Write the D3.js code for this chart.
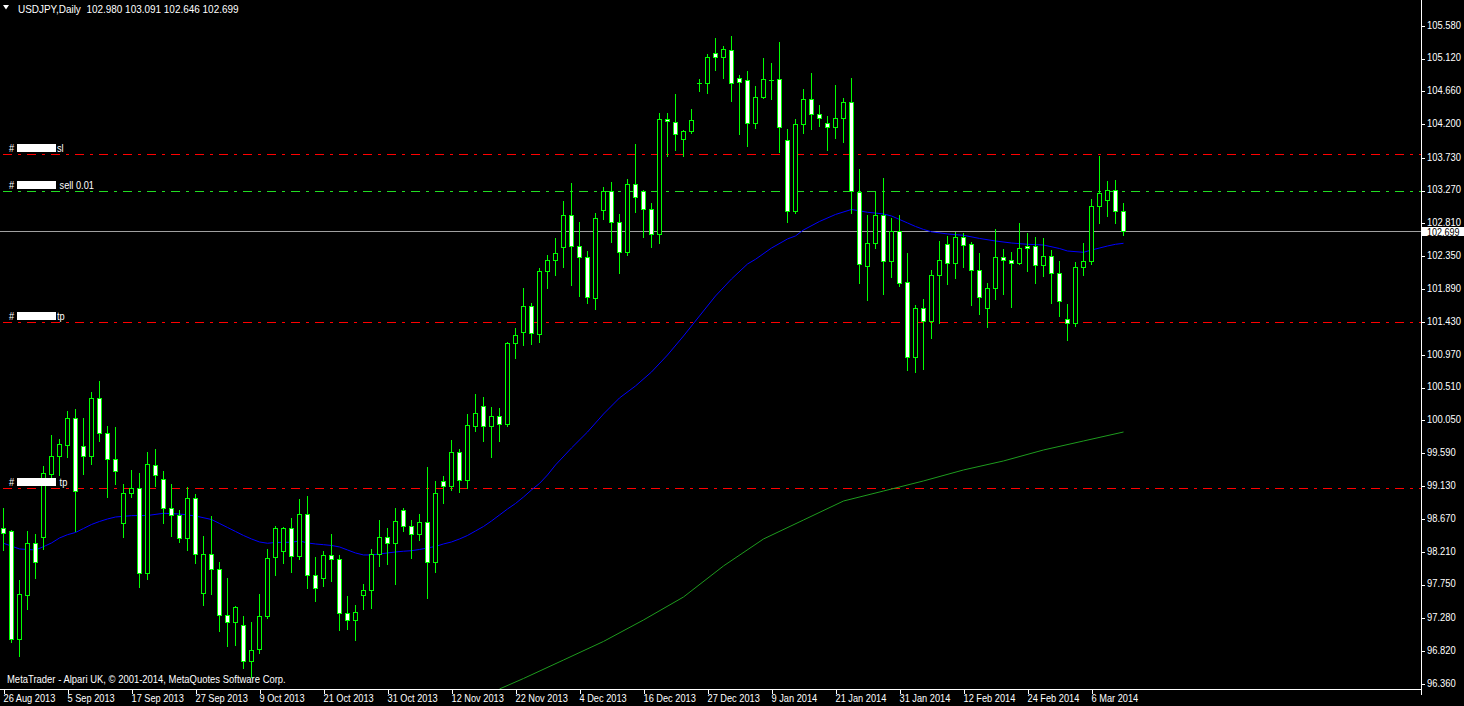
<!DOCTYPE html>
<html><head><meta charset="utf-8">
<script src="https://cdn.jsdelivr.net/npm/d3@7"></script>
<style>
html,body{margin:0;padding:0;background:#000;overflow:hidden;}
svg{display:block;}
text{font-family:"Liberation Sans",Arial,sans-serif;}
</style></head><body>
<svg id="c" width="1464" height="706"></svg>
<script>
// ---------------- DATA ----------------
const headerText = "USDJPY,Daily";
const headerValues = ["102.980", "103.091", "102.646", "102.699"];
const copyrightText = "MetaTrader - Alpari UK, \u00a9 2001-2014, MetaQuotes Software Corp.";
const dateLabels = ["26 Aug 2013","5 Sep 2013","17 Sep 2013","27 Sep 2013","9 Oct 2013","21 Oct 2013","31 Oct 2013","12 Nov 2013","22 Nov 2013","4 Dec 2013","16 Dec 2013","27 Dec 2013","9 Jan 2014","21 Jan 2014","31 Jan 2014","12 Feb 2014","24 Feb 2014","6 Mar 2014"];
const priceTicks = [105.580,105.120,104.660,104.200,103.730,103.270,102.810,102.350,101.890,101.430,100.970,100.510,100.050,99.590,99.130,98.670,98.210,97.750,97.280,96.820,96.360];

const opens = [98.538,98.496,96.991,97.608,98.332,98.412,99.295,99.547,99.701,100.079,
99.687,99.547,100.359,99.869,99.505,98.608,99.028,99.098,97.907,99.421,
99.225,98.818,98.720,98.398,98.958,97.627,98.174,97.963,97.319,97.221,
97.179,96.674,96.842,97.305,98.132,98.216,98.538,98.146,98.734,97.879,
97.837,98.160,98.104,97.347,97.249,97.599,97.669,98.174,98.412,98.328,
98.790,98.566,98.454,98.622,98.062,99.197,99.126,99.603,99.211,99.971,
100.247,99.967,100.107,99.995,101.130,101.284,101.649,101.256,102.139,102.293,
102.475,102.923,102.489,102.335,101.761,102.994,103.260,102.825,102.405,103.358,
103.260,103.008,102.657,104.269,104.227,103.988,104.101,104.781,104.781,105.193,
105.137,105.235,104.843,104.815,104.213,104.577,104.823,104.829,103.974,102.980,
104.199,104.549,104.339,104.213,104.157,104.283,104.507,103.246,102.209,102.531,
102.923,102.279,102.699,101.985,100.942,101.620,101.438,102.083,102.517,102.251,
102.615,102.517,102.153,101.620,101.901,102.335,102.293,102.251,102.489,102.489,
102.223,102.349,102.111,101.466,101.419,102.195,102.279,103.050,103.134,103.274,
102.980];
const highs = [98.818,98.514,97.814,98.500,98.458,99.407,99.845,99.789,100.182,100.210,
100.079,100.443,100.602,99.971,99.957,99.154,99.351,99.309,99.603,99.649,
99.337,99.159,98.794,99.117,99.019,98.430,98.710,98.066,97.842,97.445,
97.309,97.225,97.617,98.248,98.570,98.560,98.682,98.948,98.986,98.132,
98.220,98.458,98.160,97.589,97.463,97.753,98.244,98.650,98.538,98.822,
98.818,98.650,98.734,99.397,99.201,99.271,99.775,99.649,100.139,100.420,
100.378,100.238,100.224,101.148,101.344,101.905,101.691,102.185,102.363,102.606,
103.120,103.372,102.825,102.423,102.956,103.320,103.386,102.942,103.432,103.918,
103.274,103.096,104.353,104.353,104.623,104.119,104.413,104.833,105.184,105.408,
105.296,105.436,104.885,104.945,104.735,105.128,105.057,105.352,104.133,104.273,
104.693,104.917,104.469,104.315,104.749,104.563,104.847,103.572,102.928,103.250,
103.446,102.886,102.928,102.395,101.667,101.747,102.153,102.563,102.634,102.689,
102.671,102.545,102.391,101.971,102.727,102.451,102.409,102.816,102.675,102.620,
102.606,102.433,102.279,101.685,102.265,102.531,103.148,103.754,103.404,103.414,
103.091];
const lows = [98.234,96.949,96.749,97.411,97.846,98.252,99.247,99.289,99.541,98.500,
99.303,99.443,99.765,98.981,99.163,98.420,98.981,97.720,97.832,99.135,
98.616,98.434,98.350,98.238,98.056,97.467,97.622,97.103,96.893,96.907,
96.586,96.454,96.786,97.285,97.888,98.056,97.930,98.104,97.706,97.523,
97.734,97.804,97.117,97.131,96.973,97.411,97.425,98.014,98.042,97.762,
98.504,98.126,98.378,97.566,97.930,98.897,99.075,99.047,99.098,99.901,
99.761,99.537,99.761,99.971,100.928,101.106,101.124,101.153,101.909,102.087,
102.199,101.947,101.793,101.695,101.611,102.872,102.549,102.115,102.367,102.970,
102.620,102.484,102.540,103.754,103.839,103.754,104.081,104.665,104.637,104.959,
104.847,104.525,104.067,103.899,104.151,104.571,104.553,103.815,102.834,102.960,
104.081,104.137,104.179,103.843,104.011,103.955,102.960,101.979,101.741,102.470,
101.825,102.063,101.937,100.760,100.732,100.774,101.209,101.419,101.965,102.049,
102.203,101.671,101.545,101.363,101.747,101.825,101.643,102.245,102.147,101.979,
102.077,101.699,101.517,101.181,101.377,102.091,102.245,102.820,102.918,102.820,
102.646];
const closes = [98.468,96.991,97.617,98.332,98.062,99.309,99.547,99.715,100.079,99.056,
99.547,100.359,99.869,99.505,99.337,99.028,99.098,97.907,99.435,99.281,
98.818,98.720,98.398,98.958,98.174,98.174,97.963,97.319,97.221,97.431,
96.674,96.828,97.305,98.118,98.538,98.538,98.146,98.734,97.879,97.697,
98.160,98.104,97.347,97.249,97.361,97.669,98.174,98.412,98.328,98.636,
98.566,98.454,98.622,98.062,99.028,99.126,99.603,99.211,99.981,100.149,
99.967,100.107,99.995,101.134,101.242,101.649,101.270,102.139,102.293,102.391,
102.923,102.489,102.335,101.775,102.882,103.260,102.825,102.405,103.358,103.176,
103.008,102.657,104.269,104.241,104.059,104.101,104.255,104.781,105.137,105.137,
105.249,104.773,104.787,104.213,104.577,104.829,104.823,104.157,102.980,104.199,
104.549,104.339,104.283,104.157,104.283,104.507,103.260,102.237,102.531,102.923,
102.279,102.699,101.971,100.942,101.620,101.438,102.083,102.293,102.251,102.615,
102.503,102.153,101.775,101.901,102.335,102.293,102.251,102.461,102.461,102.223,
102.349,102.111,101.719,101.419,102.195,102.279,103.050,103.232,103.274,102.980,
102.699];

// moving averages: bar index + value
const maFastIdx = [0,2,4,5,6,7,8,9,10,11,12,13,14,16,18,20,22,24,26,27,28,29,30,31,32,33,34,36,37,38,39,40,41,42,43,44,45,46,47,48,49,50,51,52,53,54,55,56,57,58,59,60,61,62,63,64,65,66,67,68,69,71,73,75,77,79,81,83,85,87,89,91,93,94,96,98,99,100,102,104,106,108,110,111,112,113,114,115,116,118,120,122,124,126,128,130,132,133,135,136,137,138,139,140];
const maFastVal = [98.328,98.248,98.234,98.280,98.332,98.402,98.448,98.479,98.535,98.591,98.633,98.668,98.696,98.715,98.717,98.748,98.738,98.710,98.661,98.605,98.549,98.493,98.437,98.388,98.346,98.328,98.339,98.342,98.360,98.332,98.318,98.308,98.297,98.276,98.234,98.192,98.164,98.164,98.178,98.192,98.206,98.216,98.224,98.241,98.262,98.283,98.318,98.346,98.388,98.437,98.500,98.563,98.640,98.724,98.808,98.885,98.976,99.075,99.166,99.285,99.425,99.663,99.887,100.139,100.364,100.532,100.728,100.966,101.232,101.513,101.793,102.031,102.241,102.307,102.465,102.592,102.634,102.718,102.837,102.935,103.005,102.966,102.942,102.914,102.865,102.816,102.767,102.725,102.692,102.662,102.643,102.599,102.563,102.535,102.517,102.507,102.458,102.423,102.405,102.437,102.465,102.493,102.517,102.531];
const maSlowIdx = [62,65,70,75,80,85,90,95,100,105,110,115,120,125,130,135,140];
const maSlowVal = [96.286,96.433,96.692,96.952,97.253,97.575,98.010,98.388,98.654,98.920,99.060,99.201,99.355,99.481,99.635,99.761,99.887];

// order levels
const levelPrices = [103.780, 103.270, 101.425, 99.100];
const levelTags = ["sl", " sell 0.01", "tp", " tp"];
const bidPrice = 102.699;

// ---------------- LAYOUT ----------------
const W = 1464, H = 706;
const plotRight = 1421, plotBottom = 689;
const FS = 11, SX = 0.84;
const svg = d3.select("#c");
svg.append("rect").attr("width", W).attr("height", H).attr("fill", "#000");

const n = opens.length;
const x = d3.scaleLinear().domain([0, n - 1]).range([3.5, 3.5 + 8 * (n - 1)]);
const y = d3.scaleLinear().domain([96.36, 105.58]).range([683.7, 25.7]);
const py = v => Math.round(y(v)) + 0.5;

// helper: condensed text placed at (tx, ty)
function ctext(parent, tx, ty, str, sx, fill, size) {
  return parent.append("text")
    .attr("transform", `translate(${tx},${ty}) scale(${sx},1)`)
    .attr("font-size", size || FS).attr("fill", fill || "#fff")
    .attr("xml:space", "preserve").style("white-space", "pre").text(str);
}

svg.append("defs").append("clipPath").attr("id", "plot")
  .append("rect").attr("x", 0).attr("y", 0).attr("width", plotRight).attr("height", plotBottom);
const plot = svg.append("g").attr("clip-path", "url(#plot)");

// level lines (dash-dot)
const lvlColors = ["#ff0000", "#22dd22", "#ff0000", "#ff0000"];
plot.selectAll("line.lvl").data(levelPrices).join("line")
  .attr("class", "lvl")
  .attr("x1", 0).attr("x2", plotRight)
  .attr("y1", d => py(d)).attr("y2", d => py(d))
  .attr("stroke", (d, i) => lvlColors[i]).attr("stroke-width", 1)
  .attr("stroke-dasharray", "9,6,3,6").attr("stroke-dashoffset", 21)
  .attr("shape-rendering", "crispEdges");

// bid line
plot.append("line").attr("x1", 0).attr("x2", plotRight)
  .attr("y1", py(bidPrice)).attr("y2", py(bidPrice))
  .attr("stroke", "#a0a0a0").attr("stroke-width", 1).attr("shape-rendering", "crispEdges");

// moving averages
const line = d3.line().x(d => x(d[0])).y(d => y(d[1]));
plot.append("path").datum(maSlowIdx.map((k, i) => [k, maSlowVal[i]]))
  .attr("d", line).attr("fill", "none").attr("stroke", "#1e9b1e").attr("stroke-width", 1);
plot.append("path").datum(maFastIdx.map((k, i) => [k, maFastVal[i]]))
  .attr("d", line).attr("fill", "none").attr("stroke", "#0000ff").attr("stroke-width", 1);

// candles
const bars = d3.range(n).map(i => ({i, o: opens[i], h: highs[i], l: lows[i], c: closes[i]}));
const cg = plot.append("g").attr("shape-rendering", "crispEdges");
cg.selectAll("line.wick").data(bars).join("line").attr("class", "wick")
  .attr("x1", d => x(d.i)).attr("x2", d => x(d.i))
  .attr("y1", d => Math.round(y(d.h))).attr("y2", d => Math.round(y(d.l)) + 1)
  .attr("stroke", "#00ff00").attr("stroke-width", 1);
cg.selectAll("rect.body").data(bars.filter(d => Math.round(y(d.o)) !== Math.round(y(d.c)))).join("rect").attr("class", "body")
  .attr("x", d => x(d.i) - 2).attr("width", 4)
  .attr("y", d => py(Math.max(d.o, d.c)))
  .attr("height", d => py(Math.min(d.o, d.c)) - py(Math.max(d.o, d.c)))
  .attr("fill", d => d.c < d.o ? "#ffffff" : "#000000")
  .attr("stroke", "#00ff00").attr("stroke-width", 1);
cg.selectAll("line.doji").data(bars.filter(d => Math.round(y(d.o)) === Math.round(y(d.c)))).join("line").attr("class", "doji")
  .attr("x1", d => x(d.i) - 2.5).attr("x2", d => x(d.i) + 2.5)
  .attr("y1", d => py(d.c)).attr("y2", d => py(d.c))
  .attr("stroke", "#00ff00").attr("stroke-width", 1);

// level labels
const lab = svg.append("g");
levelPrices.forEach((p, i) => {
  const yy = Math.round(y(p)) - 2;
  ctext(lab, 9, yy, "#", SX);
  lab.append("rect").attr("x", 17).attr("y", yy - 8).attr("width", 39).attr("height", 8).attr("fill", "#fff");
  ctext(lab, 57, yy, levelTags[i], SX);
});

// right axis
const ra = svg.append("g").attr("transform", `translate(${plotRight + 0.5},0)`)
  .call(d3.axisRight(y).tickValues(priceTicks).tickFormat(d3.format(".3f")).tickSize(3).tickPadding(3));
ra.select(".domain").attr("stroke", "#fff").attr("d", `M0,0V${plotBottom + 6}`).attr("shape-rendering", "crispEdges");
ra.selectAll(".tick line").attr("stroke", "#fff").attr("shape-rendering", "crispEdges");
ra.selectAll(".tick text").attr("fill", "#fff").attr("font-size", FS)
  .attr("font-family", "Liberation Sans, Arial, sans-serif")
  .attr("x", null).attr("dy", null).attr("y", 2.4)
  .attr("transform", `translate(5.5,0) scale(0.855,1)`);

// bid price box
svg.append("rect").attr("x", plotRight + 1).attr("y", Math.round(y(bidPrice)) - 4).attr("width", 43).attr("height", 9).attr("fill", "#fff");
ctext(svg, plotRight + 6, Math.round(y(bidPrice)) + 4.5, d3.format(".3f")(bidPrice), 0.9, "#000", 10);

// bottom axis
const tickIdx = dateLabels.map((d, i) => i * 8);
const ba = svg.append("g").attr("transform", `translate(0,${plotBottom + 0.5})`)
  .call(d3.axisBottom(x).tickValues(tickIdx).tickFormat((d, i) => dateLabels[i]).tickSize(4).tickPadding(2));
ba.select(".domain").attr("stroke", "#fff").attr("d", `M0,0H${plotRight}`).attr("shape-rendering", "crispEdges");
ba.selectAll(".tick line").attr("stroke", "#fff").attr("shape-rendering", "crispEdges");
ba.selectAll(".tick text").attr("fill", "#fff").attr("font-size", FS).attr("text-anchor", "start")
  .attr("font-family", "Liberation Sans, Arial, sans-serif")
  .attr("y", null).attr("dy", null)
  .attr("transform", `translate(-0.5,12) scale(${SX},1)`);

// header
svg.append("path").attr("d", "M3,5 L9,5 L6,9.5 Z").attr("fill", "#fff");
ctext(svg, 18, 12.5, headerText + "  " + headerValues.join(" "), 0.905);
// copyright
ctext(svg, 7, 683, copyrightText, 0.86);
</script>
</body></html>
